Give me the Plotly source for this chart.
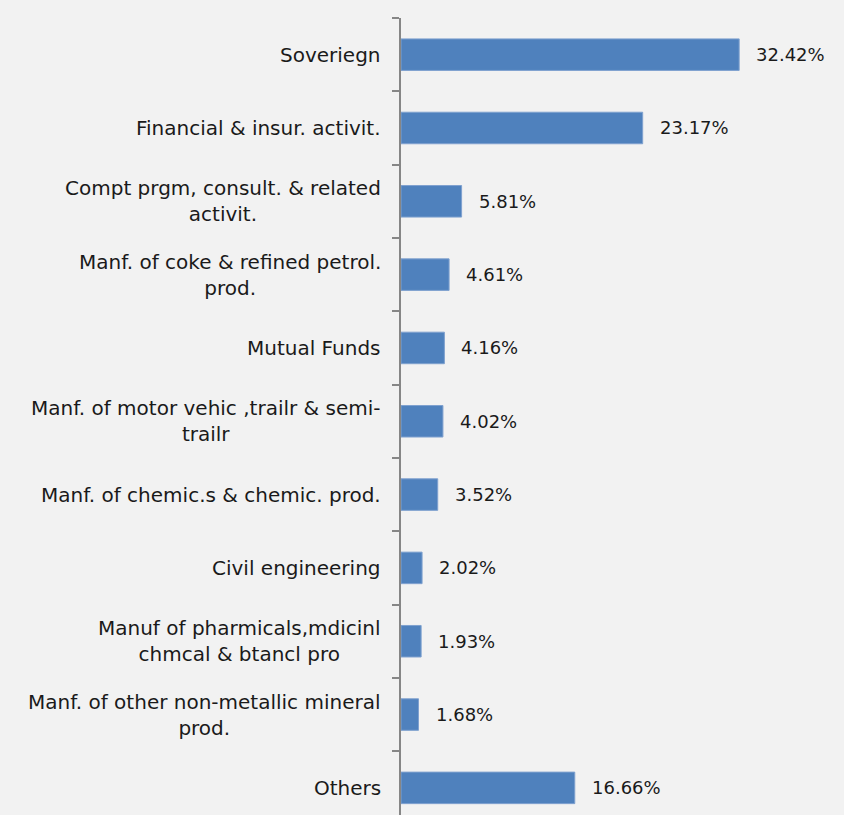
import plotly.graph_objects as go

categories = [
    "Soveriegn",
    "Financial & insur. activit.",
    "Compt prgm, consult. & related<br>activit.",
    "Manf. of coke & refined petrol.<br>prod.",
    "Mutual Funds",
    "Manf. of motor vehic ,trailr & semi-<br>trailr",
    "Manf. of chemic.s & chemic. prod.",
    "Civil engineering",
    "Manuf of pharmicals,mdicinl<br>chmcal & btancl pro",
    "Manf. of other non-metallic mineral<br>prod.",
    "Others",
]
values = [32.42, 23.17, 5.81, 4.61, 4.16, 4.02, 3.52, 2.02, 1.93, 1.68, 16.66]
value_labels = [f"{v:.2f}%" for v in values]

FONT = "DejaVu Sans"
TXT = "#1a1a1a"

fig = go.Figure(go.Bar(
    x=values, y=categories, orientation="h",
    marker=dict(color="#4F81BD", line=dict(color="#7FA1CF", width=1)),
    width=0.43,
))

ann = []
for c, v, t in zip(categories, values, value_labels):
    ann.append(dict(x=v, y=c, xref="x", yref="y", text=t, showarrow=False,
                    xanchor="left", xshift=15, font=dict(family=FONT, size=18, color=TXT)))
    ann.append(dict(x=0, y=c, xref="paper", yref="y", text=c, showarrow=False,
                    xanchor="right", align="center", xshift=-18,
                    font=dict(family=FONT, size=20, color=TXT)))

fig.update_layout(
    width=844, height=815,
    paper_bgcolor="#F2F2F2", plot_bgcolor="#F2F2F2",
    margin=dict(l=401, r=0, t=18, b=0),
    showlegend=False,
    annotations=ann,
    xaxis=dict(range=[0, 42.47], visible=False, showgrid=False, zeroline=False),
    yaxis=dict(type="category", categoryorder="array", categoryarray=categories,
               range=[10.37, -0.5], showticklabels=False, showgrid=False, zeroline=False,
               showline=True, linecolor="#868686", linewidth=1.5,
               ticks="outside", tickson="boundaries", ticklen=7, tickcolor="#868686", tickwidth=1.5),
)

fig.write_html("out.html", config={"displayModeBar": False},
               post_script="document.body.style.margin='0';document.body.style.overflow='hidden';")
